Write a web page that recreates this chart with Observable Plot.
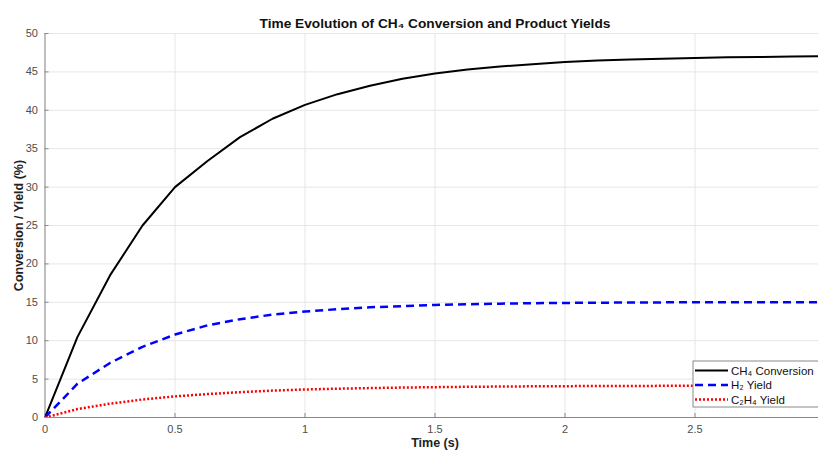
<!DOCTYPE html>
<html>
<head>
<meta charset="utf-8">
<script src="https://cdn.jsdelivr.net/npm/d3@7"></script>
<script src="https://cdn.jsdelivr.net/npm/@observablehq/plot@0.6"></script>
<style>
  html, body { margin: 0; padding: 0; background: #fff; overflow: hidden; }
  #chart svg { display: block; }
</style>
</head>
<body>
<div id="chart"></div>
<script>
// ---- data ----
const time = [0, 0.125, 0.25, 0.375, 0.5, 0.625, 0.75, 0.875, 1.0, 1.125, 1.25, 1.375, 1.5,
              1.625, 1.75, 1.875, 2.0, 2.125, 2.25, 2.375, 2.5, 2.625, 2.75, 2.875, 3.0];
const ch4Conversion = [0, 10.5, 18.5, 25.0, 30.0, 33.4, 36.5, 38.9, 40.7, 42.1, 43.2, 44.1, 44.8,
                       45.3, 45.7, 46.0, 46.3, 46.5, 46.6, 46.7, 46.8, 46.9, 46.95, 47.0, 47.05];
const h2Yield = [0, 4.4, 7.1, 9.2, 10.8, 12.0, 12.8, 13.4, 13.8, 14.1, 14.35, 14.5, 14.65,
                 14.75, 14.82, 14.88, 14.92, 14.95, 14.97, 14.99, 15.0, 15.0, 15.0, 15.0, 15.0];
const c2h4Yield = [0, 1.1, 1.8, 2.35, 2.75, 3.05, 3.3, 3.5, 3.65, 3.75, 3.83, 3.9, 3.95,
                   4.0, 4.03, 4.06, 4.08, 4.1, 4.11, 4.12, 4.13, 4.14, 4.15, 4.15, 4.15];
const seriesNames = ["CH\u2084 Conversion", "H\u2082 Yield", "C\u2082H\u2084 Yield"];
const xTicks = [0, 0.5, 1, 1.5, 2, 2.5];
const yTicks = [0, 5, 10, 15, 20, 25, 30, 35, 40, 45, 50];
const titleText = "Time Evolution of CH\u2084 Conversion and Product Yields";
const xLabel = "Time (s)";
const yLabel = "Conversion / Yield (%)";

const styles = [
  {stroke: "#000000", strokeWidth: 2, dash: null},
  {stroke: "#0000ff", strokeWidth: 2.5, dash: "8,5"},
  {stroke: "#ff0000", strokeWidth: 2.5, dash: "2,2"}
];
const seriesValues = [ch4Conversion, h2Yield, c2h4Yield];
const rows = seriesValues.map(vals => time.map((t, i) => ({t, v: vals[i]})));

const W = 818, H = 450;
const mL = 44.5, mT = 33, mB = 33, mR = 0;
const pxPerUnit = 260;
const xMax = (W - mL - mR) / pxPerUnit;

const font = "'Liberation Sans', Arial, Helvetica, sans-serif";

const plot = Plot.plot({
  width: W, height: H,
  marginLeft: mL, marginRight: mR, marginTop: mT, marginBottom: mB,
  style: {fontFamily: font, fontSize: "11px", background: "#fff", overflow: "visible"},
  x: {domain: [0, xMax]},
  y: {domain: [0, 50]},
  marks: [
    Plot.gridX(xTicks, {stroke: "#e6e6e6", strokeOpacity: 1, strokeWidth: 1}),
    Plot.gridY(yTicks, {stroke: "#e6e6e6", strokeOpacity: 1, strokeWidth: 1}),
    Plot.ruleX([0], {stroke: "#8a8a8a", strokeWidth: 1}),
    Plot.ruleY([0], {stroke: "#8a8a8a", strokeWidth: 1}),
    Plot.axisX({ticks: xTicks, tickSize: -4, tickPadding: 12, tickFormat: d => String(d), stroke: "#8a8a8a", color: "#4d4d4d", fontSize: 11, label: null}),
    Plot.axisY({ticks: yTicks, tickSize: -4, tickPadding: 11, tickFormat: d => String(d), stroke: "#8a8a8a", color: "#4d4d4d", fontSize: 11, label: null}),
    ...rows.map((d, i) => Plot.line(d, {
      x: "t", y: "v", stroke: styles[i].stroke, strokeWidth: styles[i].strokeWidth,
      strokeDasharray: styles[i].dash, clip: true, strokeLinejoin: "round", strokeLinecap: "butt"
    })),
    Plot.text([xLabel], {x: 1.5, frameAnchor: "bottom", dy: 29.5, text: d => d, fontWeight: "bold", fontSize: 12.5, fill: "#222"}),
    Plot.text([yLabel], {frameAnchor: "left", dx: -26, rotate: -90, textAnchor: "middle", text: d => d, fontWeight: "bold", fontSize: 12.5, fill: "#222"}),
    Plot.text([titleText], {x: 1.5, frameAnchor: "top", dy: -15, textAnchor: "middle", text: d => d, fontWeight: "bold", fontSize: 13.7, fill: "#111"})
  ]
});

document.getElementById("chart").appendChild(plot);

// ---- legend inside the axes (lower right) ----
const svg = d3.select(plot);
const lg = svg.append("g").attr("font-family", font).attr("font-size", 11.5).attr("text-anchor", "start");
const boxX = 693, boxY = 361, boxW = 130, boxH = 46;
lg.append("rect").attr("x", boxX).attr("y", boxY).attr("width", boxW).attr("height", boxH)
  .attr("fill", "#fff").attr("stroke", "#8a8a8a").attr("stroke-width", 1);
seriesNames.forEach((name, i) => {
  const yy = boxY + 9.5 + i * 14.5;
  lg.append("line").attr("x1", boxX + 2).attr("x2", boxX + 35).attr("y1", yy).attr("y2", yy)
    .attr("stroke", styles[i].stroke).attr("stroke-width", styles[i].strokeWidth)
    .attr("stroke-dasharray", styles[i].dash);
  lg.append("text").attr("x", boxX + 38).attr("y", yy).attr("dy", "0.35em")
    .attr("text-anchor", "start").attr("fill", "#111").text(name);
});
</script>
</body>
</html>
